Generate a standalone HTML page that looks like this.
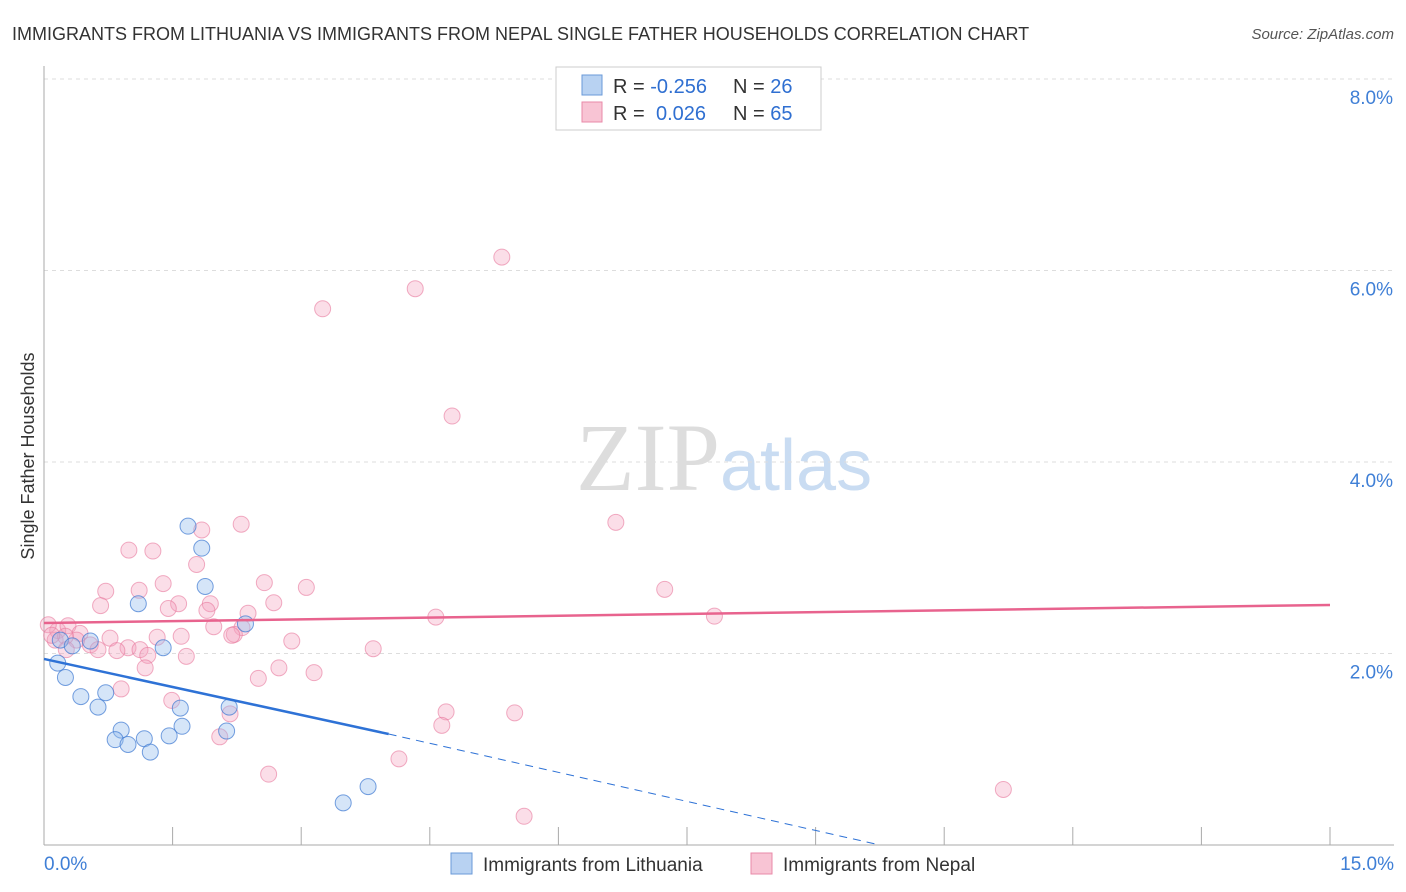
<!DOCTYPE html>
<html><head><meta charset="utf-8">
<style>
body{margin:0;background:#fff;font-family:"Liberation Sans",sans-serif;}
#wrap{position:relative;width:1406px;height:892px;overflow:hidden;}
</style></head>
<body>
<div id="wrap">
<svg id="chart" width="1406" height="892" xmlns="http://www.w3.org/2000/svg">
<text x="12" y="40" font-size="18" fill="#333">IMMIGRANTS FROM LITHUANIA VS IMMIGRANTS FROM NEPAL SINGLE FATHER HOUSEHOLDS CORRELATION CHART</text>
<text x="1394" y="39" font-size="15" fill="#555" text-anchor="end" font-style="italic">Source: ZipAtlas.com</text>
<text x="720" y="490" font-size="96" fill="#ddd" text-anchor="end" font-family="Liberation Serif">ZIP</text>
<text x="720" y="490" font-size="72" fill="#c9dcf2">atlas</text>
<g id="grid"></g>
<g id="axes"></g>
<g id="marks"></g>
<text transform="translate(34,456) rotate(-90)" font-size="18" fill="#333" text-anchor="middle">Single Father Households</text>
<g>
<rect x="556" y="67" width="265" height="63" fill="#fff" stroke="#ccc"/>
<rect x="582" y="75" width="20" height="20" fill="#b8d2f2" stroke="#6a9ad8"/>
<rect x="582" y="102" width="20" height="20" fill="#f8c4d4" stroke="#e98aa8"/>
<text x="613" y="93" font-size="20" fill="#333">R = <tspan fill="#2f6fd1">-0.256</tspan><tspan x="733">N = </tspan><tspan fill="#2f6fd1">26</tspan></text>
<text x="613" y="120" font-size="20" fill="#333">R = <tspan x="656" fill="#2f6fd1">0.026</tspan><tspan x="733">N = </tspan><tspan fill="#2f6fd1">65</tspan></text>
</g>
<g>
<rect x="451" y="853" width="21" height="21" fill="#b8d2f2" stroke="#6a9ad8"/>
<text x="483" y="871" font-size="19" fill="#333">Immigrants from Lithuania</text>
<rect x="751" y="853" width="21" height="21" fill="#f8c4d4" stroke="#e98aa8"/>
<text x="783" y="871" font-size="19" fill="#333">Immigrants from Nepal</text>
</g>
</svg>
</div>
<script>
const xTicks=[0,1.5,3,4.5,6,7.5,9,10.5,12,13.5,15];
const yTicks=[2,4,6,8];
const yTickLabels=["2.0%","4.0%","6.0%","8.0%"];
const lithX=[1.68,1.84,1.88,1.1,1.39,2.35,0.19,0.33,0.54,0.16,0.25,0.43,0.63,0.72,2.16,1.59,0.9,1.61,0.83,0.98,1.17,1.24,1.46,2.13,3.49,3.78];
const lithY=[3.33,3.1,2.7,2.52,2.06,2.31,2.14,2.08,2.13,1.9,1.75,1.55,1.44,1.59,1.44,1.43,1.2,1.24,1.1,1.05,1.11,0.97,1.14,1.19,0.44,0.61];
const nepalX=[5.34,4.33,3.25,4.76,6.67,2.3,1.84,0.99,1.27,1.39,1.78,0.72,1.11,2.57,3.06,0.66,1.57,1.45,1.94,1.9,2.38,2.68,7.24,7.82,4.57,2.31,0.16,0.28,0.42,0.77,1.32,1.6,1.98,2.22,2.89,0.54,0.63,0.98,1.12,1.21,1.66,0.85,3.84,0.05,0.13,2.74,2.5,3.15,1.18,0.9,1.49,2.17,4.69,5.49,4.64,2.05,2.62,4.14,11.19,5.6,0.38,0.25,2.19,0.26,0.09];
const nepalY=[6.14,5.81,5.6,4.48,3.37,3.35,3.29,3.08,3.07,2.73,2.93,2.65,2.66,2.74,2.69,2.5,2.52,2.47,2.52,2.45,2.42,2.53,2.67,2.39,2.38,2.27,2.24,2.29,2.21,2.16,2.17,2.18,2.28,2.2,2.13,2.09,2.04,2.06,2.04,1.98,1.97,2.03,2.05,2.3,2.14,1.85,1.74,1.8,1.85,1.63,1.51,1.37,1.39,1.38,1.25,1.13,0.74,0.9,0.58,0.3,2.14,2.18,2.19,2.04,2.19];
const lithTrendX=[0,4.02,9.75];
const lithTrendY=[1.943,1.159,0];
const nepalTrendX=[0,15];
const nepalTrendY=[2.319,2.507];
const NS="http://www.w3.org/2000/svg";
const X0=44,X1=1330,Y0=845,Y1=79;
function sx(v){return X0+(v/15)*(X1-X0);}
function sy(v){return Y0-(v/8)*(Y0-Y1);}
function el(tag,attrs,parent){const e=document.createElementNS(NS,tag);for(const k in attrs)e.setAttribute(k,attrs[k]);parent.appendChild(e);return e;}
const grid=document.getElementById('grid'),axes=document.getElementById('axes'),marks=document.getElementById('marks');
yTicks.forEach((t,i)=>{
 const l=el('line',{x1:X0,x2:1394,y1:sy(t),y2:sy(t),stroke:'#ddd','stroke-dasharray':'4,4'},grid);
 
 
 const tx=el('text',{x:1393,y:sy(t)+25,'font-size':19,fill:'#3f7fd6','text-anchor':'end'},grid);
 tx.textContent=yTickLabels[i];
 
 
});
const ax=el('line',{x1:X0,x2:X0,y1:66,y2:Y0,stroke:'#aaa'},axes);


const bx=el('line',{x1:X0,x2:1394,y1:Y0,y2:Y0,stroke:'#aaa'},axes);


xTicks.forEach(t=>{
 const l=el('line',{x1:sx(t),x2:sx(t),y1:Y0,y2:Y0-18,stroke:'#aaa'},axes);
 
 
});
const xl0=el('text',{x:44,y:870,'font-size':19,fill:'#3f7fd6'},axes);xl0.textContent=xTicks[0].toFixed(1)+'%';


const xl1=el('text',{x:1394,y:870,'font-size':19,fill:'#3f7fd6','text-anchor':'end'},axes);xl1.textContent=xTicks[xTicks.length-1].toFixed(1)+'%';


nepalX.forEach((v,i)=>{
 const c=el('circle',{cx:sx(v),cy:sy(nepalY[i]),r:8,fill:'rgba(244,160,188,0.35)',stroke:'rgba(232,120,156,0.6)','stroke-width':1},marks);
 
 
});
lithX.forEach((v,i)=>{
 const c=el('circle',{cx:sx(v),cy:sy(lithY[i]),r:8,fill:'rgba(150,190,238,0.4)',stroke:'rgba(60,120,210,0.7)','stroke-width':1},marks);
 
 
});
const pt=el('line',{x1:sx(nepalTrendX[0]),y1:sy(nepalTrendY[0]),x2:sx(nepalTrendX[1]),y2:sy(nepalTrendY[1]),stroke:'#e8638e','stroke-width':2.5},marks);


const bt=el('line',{x1:sx(lithTrendX[0]),y1:sy(lithTrendY[0]),x2:sx(lithTrendX[1]),y2:sy(lithTrendY[1]),stroke:'#2e72d6','stroke-width':2.5},marks);


const bd=el('line',{x1:sx(lithTrendX[1]),y1:sy(lithTrendY[1]),x2:sx(lithTrendX[2]),y2:sy(lithTrendY[2]),stroke:'#2e72d6','stroke-width':1,'stroke-dasharray':'8,6'},marks);


</script>
</body></html>
